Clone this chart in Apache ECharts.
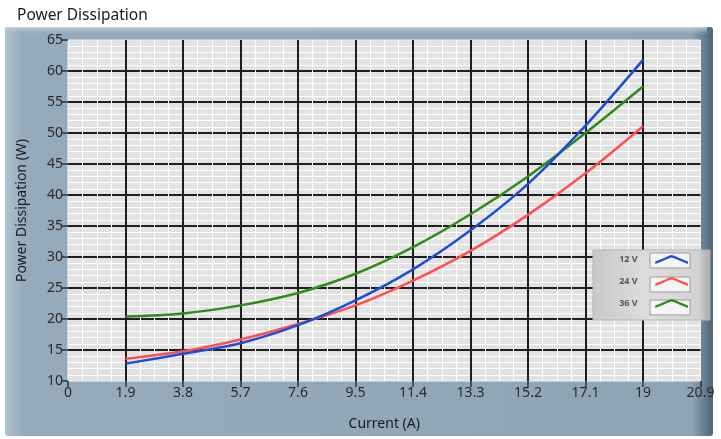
<!DOCTYPE html>
<html>
<head>
<meta charset="utf-8">
<script src="https://cdn.jsdelivr.net/npm/echarts@6/dist/echarts.min.js"></script>
<style>html,body{margin:0;padding:0;background:#fff;}#chart{width:721px;height:439px;}</style>
</head>
<body>
<div id="chart"></div>
<script>
const currentValues = [1.9, 3.8, 5.7, 7.6, 9.5, 11.4, 13.3, 15.2, 17.1, 19];
const series12V = [12.8, 14.4, 16.1, 19.0, 23.0, 28.0, 34.3, 41.8, 51.2, 61.8];
const series24V = [13.6, 14.8, 16.7, 19.2, 22.2, 26.2, 31.0, 36.8, 43.5, 51.1];
const series36V = [20.4, 20.9, 22.2, 24.2, 27.3, 31.6, 36.9, 43.0, 50.0, 57.5];
const seriesNames = ['12 V', '24 V', '36 V'];
const seriesColors = ['#1c4fd4', '#ff5050', '#2f8c1c'];

const FONT = 'Noto Sans';
const chart = echarts.init(document.getElementById('chart'), null, {renderer: 'canvas'});

function pairs(vals) { return currentValues.map((x, i) => [x, vals[i]]); }
const allSeries = [series12V, series24V, series36V];

const iconPath = 'path://M0,8 L10,4 L16,1.2 L20,0 L24,1.2 L30,4 L40,8 L40,11 L30,7 L24,4.2 L20,3 L16,4.2 L10,7 L0,11 Z';

const option = {
  backgroundColor: '#ffffff',
  title: {
    text: 'Power Dissipation', left: 12, top: 3,
    textStyle: {fontFamily: FONT, fontSize: 15.5, fontWeight: 'normal', color: '#1a1a1a'}
  },
  graphic: [
    {type: 'rect', z: -10, shape: {x: 5, y: 27, width: 708, height: 409, r: 3},
      style: {fill: new echarts.graphic.LinearGradient(0, 0, 1, 0, [
        {offset: 0, color: '#b0c3d1'}, {offset: 0.025, color: '#95abbc'},
        {offset: 0.97, color: '#8ea5b6'}, {offset: 0.985, color: '#6d8393'}, {offset: 1, color: '#4f6373'}])}},
    {type: 'rect', z: -9, shape: {x: 5, y: 27, width: 702, height: 8},
      style: {fill: new echarts.graphic.LinearGradient(0, 0, 0, 1, [
        {offset: 0, color: 'rgba(200,214,224,0.9)'}, {offset: 1, color: 'rgba(150,172,188,0)'}])}},
    {type: 'rect', z: 50, shape: {x: 593, y: 250, width: 117, height: 70},
      style: {fill: new echarts.graphic.LinearGradient(0, 0, 1, 0, [
        {offset: 0, color: '#c9c9c9'}, {offset: 0.5, color: '#dedede'}, {offset: 0.9, color: '#d2d2d2'}, {offset: 1, color: '#a8a8a8'}]),
        stroke: '#b5b5b5', lineWidth: 1}},
    {type: 'rect', z: 51, shape: {x: 650, y: 253, width: 40, height: 15}, style: {fill: '#f4f4f4', stroke: '#9a9a9a', lineWidth: 1}},
    {type: 'rect', z: 51, shape: {x: 650, y: 277, width: 40, height: 15}, style: {fill: '#f4f4f4', stroke: '#9a9a9a', lineWidth: 1}},
    {type: 'rect', z: 51, shape: {x: 650, y: 300, width: 40, height: 15}, style: {fill: '#f4f4f4', stroke: '#9a9a9a', lineWidth: 1}}
  ],
  legend: {
    orient: 'vertical', right: 33, top: 255, z: 60, padding: 0,
    itemWidth: 34, itemHeight: 9, itemGap: 13, align: 'right',
    icon: iconPath,
    data: seriesNames,
    textStyle: {fontFamily: FONT, fontSize: 9, fontWeight: 'bold', color: '#555', padding: [0, 12, 0, 0]}
  },
  grid: {
    left: 68, right: 20.5, top: 40, bottom: 58, show: true,
    backgroundColor: '#e2e2e2', borderColor: '#f2f2f2', borderWidth: 1
  },
  xAxis: {
    type: 'value', min: 0, max: 20.9, interval: 1.9,
    name: 'Current (A)', nameLocation: 'middle', nameGap: 36,
    nameTextStyle: {fontFamily: FONT, fontSize: 14, color: '#1a1a1a'},
    axisLine: {show: false},
    axisTick: {show: true, length: 6, lineStyle: {color: '#333', width: 1.5}},
    axisLabel: {fontFamily: FONT, fontSize: 14, color: '#2a2a2a', margin: 5,
      formatter: v => String(Math.round(v * 10) / 10)},
    splitLine: {show: true, showMinLine: false, showMaxLine: false, lineStyle: {color: '#1e1e1e', width: 2}},
    minorTick: {show: false, splitNumber: 4},
    minorSplitLine: {show: true, lineStyle: {color: '#ffffff', width: 1}}
  },
  yAxis: {
    type: 'value', min: 10, max: 65, interval: 5,
    name: 'Power Dissipation (W)', nameLocation: 'middle', nameGap: 39,
    nameTextStyle: {fontFamily: FONT, fontSize: 14, color: '#1a1a1a'},
    axisLine: {show: false},
    axisTick: {show: true, length: 7, lineStyle: {color: '#333', width: 1.5}},
    axisLabel: {fontFamily: FONT, fontSize: 14, color: '#2a2a2a', margin: 5},
    splitLine: {show: true, showMinLine: false, showMaxLine: false, lineStyle: {color: '#1e1e1e', width: 2}},
    minorTick: {show: false, splitNumber: 5},
    minorSplitLine: {show: true, lineStyle: {color: '#ffffff', width: 1}}
  },
  series: seriesNames.map((name, i) => ({
    name: name, type: 'line', data: pairs(allSeries[i]), smooth: 0.35,
    showSymbol: false, symbol: 'none', color: seriesColors[i],
    lineStyle: {width: 2.5, color: seriesColors[i]}, z: 3 - i + 2, animation: false
  })),
  animation: false
};
chart.setOption(option);
</script>
</body>
</html>
